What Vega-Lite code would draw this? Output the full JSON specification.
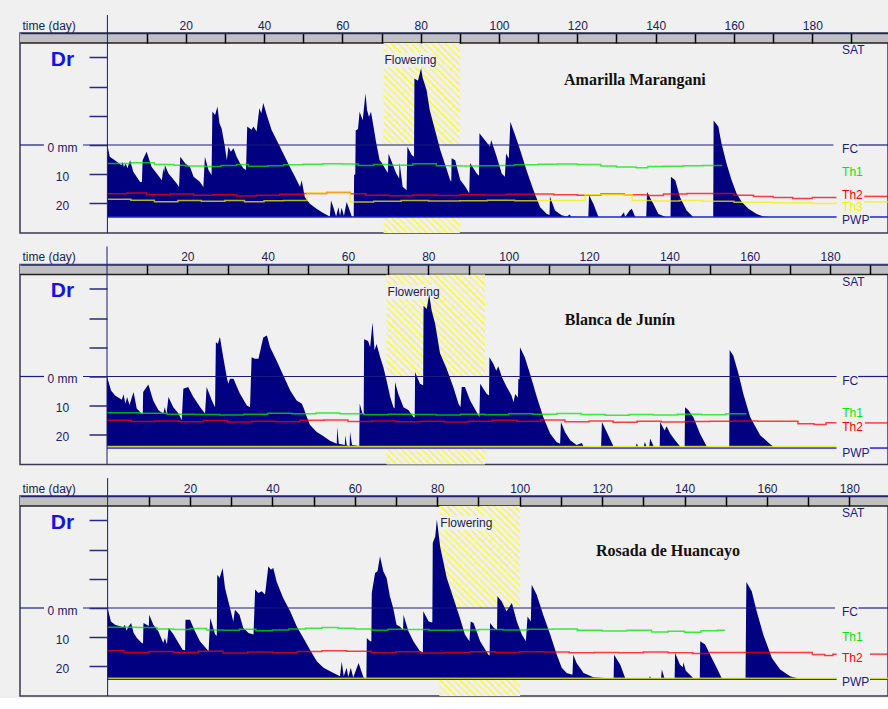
{
  "$schema": "https://vega.github.io/schema/vega-lite/v6.json",
  "background": "#f0f0f0",
  "padding": {"left": 18, "top": 13, "right": 0, "bottom": 0},
  "autosize": {"type": "pad"},
  "spacing": 9.5,
  "config": {"view": {"stroke": "#3a3a50", "strokeWidth": 1.5}, "font": "Liberation Sans"},
  "datasets": {
    "one": [{}],
    "a1": [
      {"d":0,"v":0},{"d":0.6,"v":4.0},{"d":1.9,"v":5.2},{"d":3.6,"v":6.9},{"d":3.9,"v":5.7},{"d":4.2,"v":7.5},{"d":4.7,"v":6.3},{"d":5.1,"v":8.0},{"d":5.8,"v":5.2},{"d":6.6,"v":9.2},{"d":8.3,"v":12.6},{"d":8.8,"v":12.8},{"d":9.0,"v":5.2},{"d":10.0,"v":2.3},{"d":11.3,"v":7.5},{"d":12.6,"v":9.8},{"d":13.9,"v":12.1},{"d":14.3,"v":8.0},{"d":14.5,"v":9.5},{"d":14.7,"v":6.9},{"d":15.6,"v":9.8},{"d":17.7,"v":13.2},{"d":18.3,"v":14.4},{"d":18.6,"v":4.0},{"d":19.9,"v":6.3},{"d":21.1,"v":7.5},{"d":22.0,"v":10.9},{"d":23.6,"v":12.6},{"d":24.5,"v":14.4},{"d":24.9,"v":4.0},{"d":25.8,"v":8.6},{"d":26.6,"v":10.3},{"d":26.8,"v":-11.5},{"d":27.5,"v":-10.3},{"d":28.1,"v":-13.2},{"d":28.6,"v":-7.5},{"d":29.2,"v":-5.5},{"d":30.0,"v":0.6},{"d":30.5,"v":5.2},{"d":30.9,"v":0.6},{"d":31.5,"v":2.3},{"d":32.2,"v":1.1},{"d":33.0,"v":4.0},{"d":33.9,"v":6.3},{"d":34.7,"v":8.0},{"d":35.4,"v":8.6},{"d":35.7,"v":-6.3},{"d":36.8,"v":-5.2},{"d":37.3,"v":-6.3},{"d":38.1,"v":-4.6},{"d":38.8,"v":-12.6},{"d":39.3,"v":-10.9},{"d":39.8,"v":-14.4},{"d":40.7,"v":-10.3},{"d":41.9,"v":-5.2},{"d":43.2,"v":-1.7},{"d":44.9,"v":2.9},{"d":46.6,"v":7.5},{"d":47.9,"v":10.9},{"d":49.2,"v":14.4},{"d":49.6,"v":12.1},{"d":50.4,"v":17.8},{"d":51.7,"v":20.1},{"d":53.4,"v":21.8},{"d":55.1,"v":23.3},{"d":56.8,"v":24.5},{"d":57.1,"v":19.0},{"d":57.7,"v":21.3},{"d":58.4,"v":24.5},{"d":59.0,"v":21.3},{"d":59.4,"v":24.3},{"d":59.8,"v":21.5},{"d":60.4,"v":24.3},{"d":61.1,"v":19.5},{"d":62.4,"v":24.5},{"d":62.9,"v":24.5},{"d":63.0,"v":10.3},{"d":63.3,"v":10.0},{"d":63.4,"v":-5.0},{"d":64.0,"v":-5.5},{"d":64.4,"v":-11.4},{"d":65.2,"v":-8.5},{"d":65.9,"v":-17.7},{"d":66.3,"v":-12.0},{"d":66.8,"v":-9.6},{"d":67.3,"v":-11.4},{"d":67.8,"v":-7.5},{"d":68.6,"v":-1.0},{"d":69.5,"v":5.1},{"d":70.0,"v":6.0},{"d":71.6,"v":9.6},{"d":71.8,"v":3.0},{"d":73.7,"v":9.6},{"d":74.5,"v":11.5},{"d":74.6,"v":6.0},{"d":75.4,"v":14.3},{"d":76.4,"v":15.5},{"d":76.6,"v":0.6},{"d":77.7,"v":3.4},{"d":78.3,"v":4.0},{"d":78.4,"v":-22.8},{"d":79.3,"v":-22.0},{"d":80.1,"v":-26.3},{"d":80.5,"v":-23.0},{"d":81.5,"v":-18.8},{"d":82.3,"v":-12.0},{"d":84.1,"v":-2.9},{"d":85.0,"v":1.7},{"d":86.7,"v":8.6},{"d":87.5,"v":12.0},{"d":87.8,"v":12.5},{"d":87.9,"v":4.5},{"d":88.8,"v":5.2},{"d":90.1,"v":12.0},{"d":91.4,"v":14.3},{"d":92.4,"v":16.5},{"d":92.6,"v":6.2},{"d":94.3,"v":9.8},{"d":94.9,"v":10.5},{"d":95.0,"v":-4.0},{"d":96.0,"v":-2.3},{"d":97.7,"v":0.6},{"d":98.0,"v":-1.7},{"d":99.4,"v":4.0},{"d":100.7,"v":9.8},{"d":101.5,"v":10.9},{"d":101.8,"v":2.9},{"d":102.5,"v":4.6},{"d":102.9,"v":-8.0},{"d":104.1,"v":-3.4},{"d":105.4,"v":1.7},{"d":107.0,"v":8.6},{"d":108.8,"v":15.5},{"d":110.5,"v":21.3},{"d":112.2,"v":23.6},{"d":112.9,"v":24.0},{"d":113.0,"v":17.6},{"d":114.3,"v":22.4},{"d":116.0,"v":24.1},{"d":117.3,"v":24.5},{"d":118.1,"v":23.8},{"d":118.4,"v":24.6},{"d":122.8,"v":24.66},{"d":123.0,"v":17.2},{"d":124.1,"v":20.1},{"d":125.4,"v":24.66},{"d":131.0,"v":24.66},{"d":131.9,"v":23.0},{"d":132.2,"v":24.66},{"d":133.3,"v":22.5},{"d":133.9,"v":21.8},{"d":134.8,"v":24.66},{"d":137.6,"v":24.66},{"d":137.8,"v":16.1},{"d":139.4,"v":20.1},{"d":140.7,"v":23.6},{"d":142.6,"v":24.66},{"d":143.8,"v":24.66},{"d":143.9,"v":10.9},{"d":145.0,"v":12.1},{"d":146.2,"v":17.8},{"d":147.9,"v":22.4},{"d":149.6,"v":24.66},{"d":154.7,"v":24.66},{"d":154.8,"v":-8.4},{"d":156.0,"v":-6.3},{"d":156.8,"v":-0.6},{"d":158.1,"v":6.3},{"d":159.4,"v":12.1},{"d":160.7,"v":16.7},{"d":162.0,"v":19.5},{"d":163.7,"v":21.8},{"d":165.8,"v":23.6},{"d":167.5,"v":24.5},{"d":169.0,"v":24.66}
    ],
    "a2": [
      {"d":0,"v":0},{"d":1.0,"v":4.8},{"d":2.0,"v":6.5},{"d":3.7,"v":8.0},{"d":4.1,"v":6.1},{"d":4.6,"v":9.3},{"d":5.0,"v":7.0},{"d":5.6,"v":9.8},{"d":6.6,"v":5.3},{"d":7.4,"v":11.0},{"d":8.6,"v":12.7},{"d":8.9,"v":12.9},{"d":9.0,"v":5.3},{"d":10.3,"v":2.7},{"d":11.5,"v":8.2},{"d":12.8,"v":11.6},{"d":14.0,"v":12.7},{"d":14.4,"v":10.5},{"d":14.8,"v":13.0},{"d":15.3,"v":7.0},{"d":16.5,"v":10.5},{"d":17.8,"v":12.7},{"d":18.6,"v":15.0},{"d":19.0,"v":4.2},{"d":20.2,"v":3.6},{"d":21.5,"v":7.0},{"d":23.2,"v":10.5},{"d":24.4,"v":12.7},{"d":24.8,"v":3.6},{"d":26.1,"v":8.2},{"d":26.9,"v":10.5},{"d":27.1,"v":-11.7},{"d":27.6,"v":-11.2},{"d":28.1,"v":-13.6},{"d":28.8,"v":-7.7},{"d":29.8,"v":0.2},{"d":30.2,"v":2.5},{"d":30.6,"v":0.8},{"d":31.5,"v":0.8},{"d":32.3,"v":3.4},{"d":33.1,"v":5.9},{"d":34.8,"v":9.9},{"d":35.6,"v":10.5},{"d":36.0,"v":-6.6},{"d":36.8,"v":-6.1},{"d":37.7,"v":-6.1},{"d":38.9,"v":-13.4},{"d":39.8,"v":-14.0},{"d":40.6,"v":-10.0},{"d":42.2,"v":-5.5},{"d":43.9,"v":-0.3},{"d":45.6,"v":4.8},{"d":47.2,"v":8.2},{"d":48.5,"v":9.3},{"d":49.0,"v":11.0},{"d":49.5,"v":13.0},{"d":50.5,"v":16.5},{"d":52.2,"v":19.0},{"d":53.9,"v":20.5},{"d":55.5,"v":22.0},{"d":57.2,"v":23.0},{"d":57.3,"v":17.3},{"d":57.7,"v":23.0},{"d":59.2,"v":23.5},{"d":59.3,"v":20.1},{"d":59.7,"v":23.6},{"d":60.4,"v":23.8},{"d":60.5,"v":19.0},{"d":61.0,"v":23.5},{"d":62.8,"v":23.8},{"d":62.9,"v":9.3},{"d":63.6,"v":12.7},{"d":63.9,"v":13.0},{"d":64.0,"v":-12.8},{"d":65.0,"v":-12.2},{"d":65.5,"v":-10.0},{"d":66.1,"v":-18.5},{"d":66.6,"v":-9.0},{"d":67.1,"v":-11.1},{"d":68.0,"v":-6.6},{"d":68.8,"v":-3.2},{"d":69.6,"v":1.4},{"d":70.5,"v":7.0},{"d":71.3,"v":10.5},{"d":71.6,"v":11.0},{"d":71.7,"v":1.9},{"d":72.5,"v":5.9},{"d":73.8,"v":10.5},{"d":75.0,"v":11.5},{"d":76.3,"v":13.9},{"d":76.6,"v":14.0},{"d":76.7,"v":-1.5},{"d":77.9,"v":2.5},{"d":78.7,"v":3.0},{"d":78.8,"v":-24.2},{"d":79.6,"v":-23.1},{"d":80.2,"v":-28.2},{"d":80.8,"v":-22.7},{"d":81.7,"v":-18.0},{"d":82.9,"v":-8.0},{"d":84.6,"v":-2.5},{"d":86.2,"v":3.6},{"d":87.5,"v":9.3},{"d":88.0,"v":10.5},{"d":88.3,"v":3.6},{"d":89.1,"v":3.6},{"d":90.4,"v":8.2},{"d":92.0,"v":12.2},{"d":92.7,"v":13.9},{"d":92.9,"v":2.5},{"d":94.5,"v":5.9},{"d":95.1,"v":6.5},{"d":95.2,"v":-6.6},{"d":96.2,"v":-4.3},{"d":96.9,"v":-2.0},{"d":97.4,"v":-3.5},{"d":98.3,"v":0.2},{"d":99.5,"v":3.6},{"d":100.7,"v":6.5},{"d":101.2,"v":8.8},{"d":101.6,"v":6.0},{"d":102.3,"v":7.2},{"d":102.4,"v":0.8},{"d":102.7,"v":1.0},{"d":102.8,"v":-10.0},{"d":104.0,"v":-6.6},{"d":105.3,"v":-0.9},{"d":107.0,"v":7.0},{"d":108.6,"v":13.9},{"d":110.3,"v":19.5},{"d":111.9,"v":22.4},{"d":112.8,"v":23.0},{"d":113.0,"v":15.6},{"d":114.0,"v":19.0},{"d":115.3,"v":21.8},{"d":116.9,"v":23.5},{"d":118.2,"v":22.8},{"d":118.6,"v":23.9},{"d":120.7,"v":24.0},{"d":123.0,"v":24.0},{"d":123.2,"v":15.6},{"d":124.4,"v":19.0},{"d":126.1,"v":24.0},{"d":131.6,"v":24.0},{"d":131.9,"v":22.9},{"d":132.2,"v":24.0},{"d":133.6,"v":24.0},{"d":133.9,"v":22.4},{"d":134.3,"v":24.0},{"d":135.0,"v":24.0},{"d":135.2,"v":21.2},{"d":136.1,"v":24.0},{"d":137.6,"v":24.0},{"d":137.7,"v":15.6},{"d":138.8,"v":18.5},{"d":139.3,"v":17.0},{"d":140.2,"v":19.5},{"d":141.4,"v":21.8},{"d":142.7,"v":24.0},{"d":143.8,"v":24.0},{"d":143.9,"v":10.5},{"d":144.7,"v":11.5},{"d":146.0,"v":14.0},{"d":147.6,"v":19.5},{"d":149.3,"v":24.0},{"d":154.9,"v":24.0},{"d":155.0,"v":-9.1},{"d":155.9,"v":-7.2},{"d":157.2,"v":-0.9},{"d":158.4,"v":5.9},{"d":160.1,"v":13.9},{"d":162.6,"v":20.1},{"d":165.1,"v":23.2},{"d":165.9,"v":24.0}
    ],
    "a3": [
      {"d":0,"v":0},{"d":0.8,"v":4.6},{"d":1.8,"v":5.7},{"d":3.8,"v":6.6},{"d":4.2,"v":5.7},{"d":4.6,"v":7.8},{"d":5.0,"v":6.5},{"d":5.7,"v":5.1},{"d":6.3,"v":8.5},{"d":7.1,"v":10.3},{"d":8.3,"v":12.0},{"d":8.6,"v":12.2},{"d":8.7,"v":5.1},{"d":9.8,"v":6.0},{"d":10.0,"v":6.2},{"d":10.1,"v":2.3},{"d":11.1,"v":5.7},{"d":12.3,"v":8.0},{"d":13.5,"v":12.0},{"d":13.9,"v":10.3},{"d":14.4,"v":12.5},{"d":14.8,"v":6.8},{"d":16.0,"v":9.1},{"d":17.2,"v":12.0},{"d":18.2,"v":14.3},{"d":18.8,"v":14.5},{"d":18.9,"v":4.0},{"d":20.0,"v":4.0},{"d":21.2,"v":8.0},{"d":22.4,"v":11.4},{"d":24.5,"v":14.8},{"d":24.9,"v":3.4},{"d":26.1,"v":9.1},{"d":26.5,"v":9.5},{"d":26.6,"v":-11.4},{"d":27.2,"v":-10.3},{"d":27.9,"v":-13.7},{"d":28.5,"v":-6.8},{"d":29.7,"v":0.0},{"d":30.5,"v":4.6},{"d":30.9,"v":0.6},{"d":32.0,"v":2.3},{"d":32.9,"v":6.8},{"d":34.2,"v":8.6},{"d":35.4,"v":9.1},{"d":35.8,"v":-6.3},{"d":36.6,"v":-5.1},{"d":37.4,"v":-5.7},{"d":38.2,"v":-4.6},{"d":39.0,"v":-14.3},{"d":39.6,"v":-13.1},{"d":40.2,"v":-13.7},{"d":41.0,"v":-9.1},{"d":42.6,"v":-3.4},{"d":44.3,"v":1.1},{"d":45.9,"v":6.3},{"d":47.5,"v":10.3},{"d":49.1,"v":14.3},{"d":50.8,"v":18.3},{"d":52.4,"v":20.5},{"d":54.8,"v":22.3},{"d":56.4,"v":23.4},{"d":56.8,"v":18.3},{"d":57.3,"v":23.4},{"d":58.0,"v":20.5},{"d":58.4,"v":23.6},{"d":59.0,"v":20.5},{"d":59.6,"v":23.8},{"d":60.9,"v":18.8},{"d":62.1,"v":23.8},{"d":62.8,"v":24.0},{"d":62.9,"v":10.3},{"d":63.7,"v":11.4},{"d":64.0,"v":11.5},{"d":64.1,"v":-5.1},{"d":64.9,"v":-12.0},{"d":65.5,"v":-12.6},{"d":66.1,"v":-17.7},{"d":66.9,"v":-12.6},{"d":67.7,"v":-10.3},{"d":68.5,"v":-4.0},{"d":69.3,"v":0.0},{"d":70.1,"v":5.7},{"d":70.9,"v":6.3},{"d":71.7,"v":7.5},{"d":71.8,"v":2.3},{"d":73.0,"v":8.0},{"d":74.2,"v":11.4},{"d":75.8,"v":14.8},{"d":76.5,"v":15.2},{"d":76.6,"v":1.1},{"d":77.9,"v":4.6},{"d":78.8,"v":5.0},{"d":78.9,"v":-22.3},{"d":79.5,"v":-24.5},{"d":79.9,"v":-30.3},{"d":80.4,"v":-24.5},{"d":80.7,"v":-21.0},{"d":82.3,"v":-10.3},{"d":83.9,"v":-3.4},{"d":85.5,"v":3.4},{"d":86.7,"v":9.1},{"d":87.8,"v":11.4},{"d":88.1,"v":4.6},{"d":88.8,"v":5.1},{"d":90.4,"v":11.4},{"d":92.4,"v":16.0},{"d":92.7,"v":16.3},{"d":92.8,"v":5.1},{"d":93.7,"v":6.8},{"d":94.5,"v":7.5},{"d":94.6,"v":-4.0},{"d":95.6,"v":-2.3},{"d":96.8,"v":1.1},{"d":98.1,"v":-1.7},{"d":99.3,"v":4.6},{"d":100.5,"v":9.1},{"d":101.5,"v":11.4},{"d":101.9,"v":2.9},{"d":102.7,"v":4.6},{"d":102.9,"v":-8.0},{"d":104.1,"v":-4.6},{"d":105.7,"v":2.3},{"d":107.4,"v":9.1},{"d":109.0,"v":16.0},{"d":110.2,"v":20.5},{"d":111.4,"v":22.3},{"d":112.8,"v":22.9},{"d":113.0,"v":16.0},{"d":113.8,"v":18.8},{"d":115.5,"v":22.3},{"d":117.9,"v":23.7},{"d":120.7,"v":24.0},{"d":122.8,"v":24.0},{"d":122.9,"v":16.0},{"d":124.4,"v":19.4},{"d":125.6,"v":24.0},{"d":131.4,"v":24.0},{"d":131.6,"v":23.4},{"d":131.9,"v":24.0},{"d":134.3,"v":24.0},{"d":134.5,"v":21.1},{"d":135.1,"v":24.0},{"d":137.6,"v":24.0},{"d":137.7,"v":15.4},{"d":138.9,"v":19.4},{"d":139.6,"v":20.3},{"d":139.7,"v":18.6},{"d":140.3,"v":21.5},{"d":142.1,"v":24.0},{"d":143.7,"v":24.0},{"d":143.8,"v":11.4},{"d":145.0,"v":12.5},{"d":146.2,"v":16.0},{"d":147.8,"v":20.5},{"d":149.0,"v":24.0},{"d":154.8,"v":24.0},{"d":155.0,"v":-8.9},{"d":156.3,"v":-5.7},{"d":157.5,"v":1.1},{"d":159.1,"v":9.1},{"d":161.2,"v":17.1},{"d":163.2,"v":21.1},{"d":165.6,"v":23.4},{"d":167.2,"v":24.0}
    ],
    "t1": [
      {"d":0,"v":6.3,"s":"Th1","g":"1"},{"d":6,"v":6.1,"s":"Th1","g":"1"},{"d":12,"v":6.7,"s":"Th1","g":"1"},{"d":17,"v":6.9,"s":"Th1","g":"1"},{"d":20,"v":7.2,"s":"Th1","g":"1"},{"d":25,"v":7.4,"s":"Th1","g":"1"},{"d":29,"v":7.0,"s":"Th1","g":"1"},{"d":33,"v":6.7,"s":"Th1","g":"1"},{"d":36,"v":7.3,"s":"Th1","g":"1"},{"d":41,"v":7.1,"s":"Th1","g":"1"},{"d":45,"v":6.8,"s":"Th1","g":"1"},{"d":50,"v":6.6,"s":"Th1","g":"1"},{"d":55,"v":6.4,"s":"Th1","g":"1"},{"d":60,"v":6.5,"s":"Th1","g":"1"},{"d":64,"v":7.0,"s":"Th1","g":"1"},{"d":68,"v":6.7,"s":"Th1","g":"1"},{"d":72,"v":6.9,"s":"Th1","g":"1"},{"d":78,"v":6.4,"s":"Th1","g":"1"},{"d":84,"v":7.1,"s":"Th1","g":"1"},{"d":90,"v":7.2,"s":"Th1","g":"1"},{"d":95,"v":7.1,"s":"Th1","g":"1"},{"d":100,"v":7.0,"s":"Th1","g":"1"},{"d":104,"v":6.8,"s":"Th1","g":"1"},{"d":110,"v":6.6,"s":"Th1","g":"1"},{"d":115,"v":6.5,"s":"Th1","g":"1"},{"d":120,"v":6.7,"s":"Th1","g":"1"},{"d":126,"v":7.2,"s":"Th1","g":"1"},{"d":130,"v":7.5,"s":"Th1","g":"1"},{"d":135,"v":7.8,"s":"Th1","g":"1"},{"d":138,"v":7.4,"s":"Th1","g":"1"},{"d":142,"v":7.3,"s":"Th1","g":"1"},{"d":147,"v":7.1,"s":"Th1","g":"1"},{"d":152,"v":7.0,"s":"Th1","g":"1"},{"d":157,"v":7.0,"s":"Th1","g":"1"},
      {"d":0,"v":16.7,"s":"Th2","g":"2a"},{"d":5,"v":16.4,"s":"Th2","g":"2a"},{"d":10,"v":17.0,"s":"Th2","g":"2a"},{"d":16,"v":16.8,"s":"Th2","g":"2a"},{"d":22,"v":17.2,"s":"Th2","g":"2a"},{"d":27,"v":17.0,"s":"Th2","g":"2a"},{"d":33,"v":17.5,"s":"Th2","g":"2a"},{"d":38,"v":17.2,"s":"Th2","g":"2a"},{"d":44,"v":16.9,"s":"Th2","g":"2a"},{"d":50,"v":16.6,"s":"Th2","g":"2a"},{"d":56,"v":16.3,"s":"Th2","g":"2a"},{"d":62,"v":16.7,"s":"Th2","g":"2a"},{"d":66,"v":17.2,"s":"Th2","g":"2a"},{"d":72,"v":17.4,"s":"Th2","g":"2a"},{"d":78,"v":17.1,"s":"Th2","g":"2a"},{"d":84,"v":17.3,"s":"Th2","g":"2a"},{"d":90,"v":17.0,"s":"Th2","g":"2a"},{"d":96,"v":17.1,"s":"Th2","g":"2a"},{"d":102,"v":16.9,"s":"Th2","g":"2a"},{"d":108,"v":16.8,"s":"Th2","g":"2a"},{"d":114,"v":17.0,"s":"Th2","g":"2a"},{"d":120,"v":17.2,"s":"Th2","g":"2a"},{"d":126,"v":16.8,"s":"Th2","g":"2a"},{"d":132,"v":17.0,"s":"Th2","g":"2a"},{"d":138,"v":17.3,"s":"Th2","g":"2a"},{"d":142,"v":16.8,"s":"Th2","g":"2a"},{"d":148,"v":16.6,"s":"Th2","g":"2a"},{"d":155,"v":16.6,"s":"Th2","g":"2a"},{"d":160,"v":17.2,"s":"Th2","g":"2a"},{"d":165,"v":17.6,"s":"Th2","g":"2a"},{"d":170,"v":18.0,"s":"Th2","g":"2a"},{"d":175,"v":18.3,"s":"Th2","g":"2a"},{"d":180,"v":18.0,"s":"Th2","g":"2a"},{"d":186,"v":17.8,"s":"Th2","g":"2a"},
      {"d":193.3,"v":17.6,"s":"Th2","g":"2b"},{"d":199.33,"v":17.6,"s":"Th2","g":"2b"},
      {"d":0,"v":18.6,"s":"Th3","g":"3a"},{"d":6,"v":18.9,"s":"Th3","g":"3a"},{"d":12,"v":19.4,"s":"Th3","g":"3a"},{"d":18,"v":19.0,"s":"Th3","g":"3a"},{"d":24,"v":19.3,"s":"Th3","g":"3a"},{"d":30,"v":19.0,"s":"Th3","g":"3a"},{"d":35,"v":19.4,"s":"Th3","g":"3a"},{"d":40,"v":19.1,"s":"Th3","g":"3a"},{"d":45,"v":19.0,"s":"Th3","g":"3a"},{"d":51,"v":16.4,"s":"Th3","g":"3a"},{"d":62,"v":19.5,"s":"Th3","g":"3a"},{"d":68,"v":19.3,"s":"Th3","g":"3a"},{"d":75,"v":19.0,"s":"Th3","g":"3a"},{"d":82,"v":19.2,"s":"Th3","g":"3a"},{"d":90,"v":19.1,"s":"Th3","g":"3a"},{"d":97,"v":18.9,"s":"Th3","g":"3a"},{"d":104,"v":19.1,"s":"Th3","g":"3a"},{"d":110,"v":19.0,"s":"Th3","g":"3a"},{"d":122,"v":17.0,"s":"Th3","g":"3a"},{"d":134,"v":19.0,"s":"Th3","g":"3a"},{"d":140,"v":19.2,"s":"Th3","g":"3a"},{"d":146,"v":19.0,"s":"Th3","g":"3a"},{"d":152,"v":19.3,"s":"Th3","g":"3a"},{"d":160,"v":19.6,"s":"Th3","g":"3a"},{"d":170,"v":19.8,"s":"Th3","g":"3a"},{"d":180,"v":20.0,"s":"Th3","g":"3a"},{"d":186,"v":19.6,"s":"Th3","g":"3a"},
      {"d":193.3,"v":19.5,"s":"Th3","g":"3b"},{"d":199.33,"v":19.5,"s":"Th3","g":"3b"}
    ],
    "t2": [
      {"d":0,"v":12.4,"s":"Th1","g":"1"},{"d":8,"v":12.6,"s":"Th1","g":"1"},{"d":15,"v":12.9,"s":"Th1","g":"1"},{"d":22,"v":13.0,"s":"Th1","g":"1"},{"d":28,"v":13.2,"s":"Th1","g":"1"},{"d":34,"v":12.9,"s":"Th1","g":"1"},{"d":40,"v":12.6,"s":"Th1","g":"1"},{"d":46,"v":12.8,"s":"Th1","g":"1"},{"d":52,"v":12.5,"s":"Th1","g":"1"},{"d":58,"v":12.8,"s":"Th1","g":"1"},{"d":64,"v":13.1,"s":"Th1","g":"1"},{"d":70,"v":12.9,"s":"Th1","g":"1"},{"d":76,"v":13.0,"s":"Th1","g":"1"},{"d":82,"v":13.2,"s":"Th1","g":"1"},{"d":88,"v":12.9,"s":"Th1","g":"1"},{"d":94,"v":13.1,"s":"Th1","g":"1"},{"d":100,"v":12.8,"s":"Th1","g":"1"},{"d":106,"v":12.9,"s":"Th1","g":"1"},{"d":112,"v":12.7,"s":"Th1","g":"1"},{"d":118,"v":13.0,"s":"Th1","g":"1"},{"d":124,"v":13.3,"s":"Th1","g":"1"},{"d":130,"v":13.0,"s":"Th1","g":"1"},{"d":136,"v":13.2,"s":"Th1","g":"1"},{"d":142,"v":12.9,"s":"Th1","g":"1"},{"d":148,"v":13.1,"s":"Th1","g":"1"},{"d":154,"v":12.8,"s":"Th1","g":"1"},{"d":159,"v":13.0,"s":"Th1","g":"1"},
      {"d":0,"v":15.0,"s":"Th2","g":"2a"},{"d":6,"v":15.4,"s":"Th2","g":"2a"},{"d":12,"v":15.2,"s":"Th2","g":"2a"},{"d":18,"v":15.5,"s":"Th2","g":"2a"},{"d":24,"v":15.1,"s":"Th2","g":"2a"},{"d":30,"v":15.6,"s":"Th2","g":"2a"},{"d":36,"v":15.3,"s":"Th2","g":"2a"},{"d":42,"v":15.5,"s":"Th2","g":"2a"},{"d":48,"v":15.0,"s":"Th2","g":"2a"},{"d":54,"v":14.9,"s":"Th2","g":"2a"},{"d":60,"v":15.4,"s":"Th2","g":"2a"},{"d":66,"v":15.2,"s":"Th2","g":"2a"},{"d":72,"v":15.5,"s":"Th2","g":"2a"},{"d":78,"v":15.3,"s":"Th2","g":"2a"},{"d":84,"v":15.6,"s":"Th2","g":"2a"},{"d":90,"v":15.3,"s":"Th2","g":"2a"},{"d":96,"v":15.0,"s":"Th2","g":"2a"},{"d":102,"v":15.3,"s":"Th2","g":"2a"},{"d":108,"v":14.9,"s":"Th2","g":"2a"},{"d":114,"v":15.5,"s":"Th2","g":"2a"},{"d":120,"v":15.2,"s":"Th2","g":"2a"},{"d":126,"v":15.7,"s":"Th2","g":"2a"},{"d":132,"v":15.3,"s":"Th2","g":"2a"},{"d":138,"v":15.6,"s":"Th2","g":"2a"},{"d":144,"v":15.4,"s":"Th2","g":"2a"},{"d":150,"v":15.3,"s":"Th2","g":"2a"},{"d":156,"v":15.2,"s":"Th2","g":"2a"},{"d":162,"v":15.3,"s":"Th2","g":"2a"},{"d":168,"v":15.3,"s":"Th2","g":"2a"},{"d":172,"v":16.2,"s":"Th2","g":"2a"},{"d":176,"v":16.4,"s":"Th2","g":"2a"},{"d":179,"v":15.8,"s":"Th2","g":"2a"},{"d":181.6,"v":15.8,"s":"Th2","g":"2a"},
      {"d":188.7,"v":15.9,"s":"Th2","g":"2b"},{"d":194.42,"v":15.9,"s":"Th2","g":"2b"},
      {"d":0,"v":24.0,"s":"Th3","g":"3a"},{"d":181.6,"v":24.0,"s":"Th3","g":"3a"}
    ],
    "t3": [
      {"d":0,"v":6.6,"s":"Th1","g":"1"},{"d":7,"v":6.7,"s":"Th1","g":"1"},{"d":12,"v":7.2,"s":"Th1","g":"1"},{"d":16,"v":7.4,"s":"Th1","g":"1"},{"d":20,"v":7.0,"s":"Th1","g":"1"},{"d":24,"v":7.5,"s":"Th1","g":"1"},{"d":28,"v":7.6,"s":"Th1","g":"1"},{"d":32,"v":7.3,"s":"Th1","g":"1"},{"d":36,"v":7.8,"s":"Th1","g":"1"},{"d":40,"v":7.5,"s":"Th1","g":"1"},{"d":44,"v":7.2,"s":"Th1","g":"1"},{"d":48,"v":6.9,"s":"Th1","g":"1"},{"d":52,"v":6.7,"s":"Th1","g":"1"},{"d":56,"v":6.9,"s":"Th1","g":"1"},{"d":60,"v":7.2,"s":"Th1","g":"1"},{"d":64,"v":7.6,"s":"Th1","g":"1"},{"d":68,"v":7.3,"s":"Th1","g":"1"},{"d":72,"v":7.4,"s":"Th1","g":"1"},{"d":78,"v":7.6,"s":"Th1","g":"1"},{"d":84,"v":7.5,"s":"Th1","g":"1"},{"d":90,"v":7.4,"s":"Th1","g":"1"},{"d":96,"v":7.5,"s":"Th1","g":"1"},{"d":102,"v":7.3,"s":"Th1","g":"1"},{"d":108,"v":7.2,"s":"Th1","g":"1"},{"d":114,"v":7.6,"s":"Th1","g":"1"},{"d":120,"v":7.9,"s":"Th1","g":"1"},{"d":126,"v":7.6,"s":"Th1","g":"1"},{"d":132,"v":8.2,"s":"Th1","g":"1"},{"d":136,"v":8.0,"s":"Th1","g":"1"},{"d":140,"v":8.3,"s":"Th1","g":"1"},{"d":144,"v":7.8,"s":"Th1","g":"1"},{"d":148,"v":7.6,"s":"Th1","g":"1"},{"d":149.8,"v":7.6,"s":"Th1","g":"1"},
      {"d":0,"v":14.6,"s":"Th2","g":"2a"},{"d":4,"v":15.2,"s":"Th2","g":"2a"},{"d":10,"v":14.9,"s":"Th2","g":"2a"},{"d":16,"v":15.2,"s":"Th2","g":"2a"},{"d":22,"v":14.8,"s":"Th2","g":"2a"},{"d":28,"v":15.4,"s":"Th2","g":"2a"},{"d":34,"v":15.1,"s":"Th2","g":"2a"},{"d":40,"v":15.3,"s":"Th2","g":"2a"},{"d":46,"v":14.9,"s":"Th2","g":"2a"},{"d":52,"v":14.6,"s":"Th2","g":"2a"},{"d":58,"v":14.8,"s":"Th2","g":"2a"},{"d":64,"v":15.3,"s":"Th2","g":"2a"},{"d":70,"v":15.0,"s":"Th2","g":"2a"},{"d":76,"v":15.4,"s":"Th2","g":"2a"},{"d":82,"v":15.2,"s":"Th2","g":"2a"},{"d":88,"v":15.0,"s":"Th2","g":"2a"},{"d":94,"v":15.2,"s":"Th2","g":"2a"},{"d":100,"v":15.0,"s":"Th2","g":"2a"},{"d":106,"v":15.1,"s":"Th2","g":"2a"},{"d":112,"v":15.3,"s":"Th2","g":"2a"},{"d":118,"v":15.2,"s":"Th2","g":"2a"},{"d":124,"v":15.3,"s":"Th2","g":"2a"},{"d":130,"v":15.1,"s":"Th2","g":"2a"},{"d":136,"v":15.3,"s":"Th2","g":"2a"},{"d":142,"v":15.6,"s":"Th2","g":"2a"},{"d":146,"v":15.2,"s":"Th2","g":"2a"},{"d":171,"v":15.9,"s":"Th2","g":"2a"},{"d":174,"v":16.3,"s":"Th2","g":"2a"},{"d":176,"v":15.8,"s":"Th2","g":"2a"},{"d":176.9,"v":15.8,"s":"Th2","g":"2a"},
      {"d":185,"v":15.8,"s":"Th2","g":"2b"},{"d":189.37,"v":15.8,"s":"Th2","g":"2b"},
      {"d":0,"v":24.1,"s":"Th3","g":"3a"},{"d":176.9,"v":24.1,"s":"Th3","g":"3a"},
      {"d":185,"v":24.1,"s":"Th3","g":"3b"},{"d":189.37,"v":24.1,"s":"Th3","g":"3b"}
    ],
    "l1": [{"lab":"SAT","v":-32.5},{"lab":"FC","v":1.4},{"lab":"Th1","v":9.2},{"lab":"Th2","v":17.0},{"lab":"Th3","v":21.3},{"lab":"PWP","v":25.7}],
    "l2": [{"lab":"SAT","v":-32.3},{"lab":"FC","v":1.6},{"lab":"Th1","v":12.6},{"lab":"Th2","v":17.3},{"lab":"PWP","v":26.3}],
    "l3": [{"lab":"SAT","v":-32.6},{"lab":"FC","v":1.3},{"lab":"Th1","v":9.8},{"lab":"Th2","v":17.1},{"lab":"PWP","v":25.3}]
  },
  "vconcat": [
    {
      "width": 868, "height": 200,
      "layer": [
        {"data": {"name": "one"}, "mark": {"type": "rect", "fill": "#c0c0c0"},
         "encoding": {"x": {"datum": -22.32}, "x2": {"datum": 199.33}, "y": {"datum": -38.36}, "y2": {"datum": -34.94}}},
        {"data": {"name": "one"}, "mark": {"type": "rule", "color": "#202020", "strokeWidth": 1.5},
         "encoding": {"x": {"datum": -22.32}, "x2": {"datum": 199.33}, "y": {"datum": -34.94}}},
        {"data": {"name": "one"}, "mark": {"type": "rect", "fill": {"gradient": "linear", "x1": 0, "y1": 1, "x2": 0.5465, "y2": -0.3592, "stops": [
          {"offset":0.0065,"color":"#f0f0f0"},{"offset":0.011,"color":"#ffff00"},{"offset":0.0155,"color":"#f0f0f0"},
          {"offset":0.0288,"color":"#f0f0f0"},{"offset":0.0333,"color":"#ffff00"},{"offset":0.0378,"color":"#f0f0f0"},
          {"offset":0.0512,"color":"#f0f0f0"},{"offset":0.0557,"color":"#ffff00"},{"offset":0.0602,"color":"#f0f0f0"},
          {"offset":0.0735,"color":"#f0f0f0"},{"offset":0.078,"color":"#ffff00"},{"offset":0.0825,"color":"#f0f0f0"},
          {"offset":0.0958,"color":"#f0f0f0"},{"offset":0.1003,"color":"#ffff00"},{"offset":0.1048,"color":"#f0f0f0"},
          {"offset":0.1182,"color":"#f0f0f0"},{"offset":0.1227,"color":"#ffff00"},{"offset":0.1272,"color":"#f0f0f0"},
          {"offset":0.1405,"color":"#f0f0f0"},{"offset":0.145,"color":"#ffff00"},{"offset":0.1495,"color":"#f0f0f0"},
          {"offset":0.1628,"color":"#f0f0f0"},{"offset":0.1673,"color":"#ffff00"},{"offset":0.1718,"color":"#f0f0f0"},
          {"offset":0.1851,"color":"#f0f0f0"},{"offset":0.1896,"color":"#ffff00"},{"offset":0.1941,"color":"#f0f0f0"},
          {"offset":0.2075,"color":"#f0f0f0"},{"offset":0.212,"color":"#ffff00"},{"offset":0.2165,"color":"#f0f0f0"},
          {"offset":0.2298,"color":"#f0f0f0"},{"offset":0.2343,"color":"#ffff00"},{"offset":0.2388,"color":"#f0f0f0"},
          {"offset":0.2521,"color":"#f0f0f0"},{"offset":0.2566,"color":"#ffff00"},{"offset":0.2611,"color":"#f0f0f0"},
          {"offset":0.2745,"color":"#f0f0f0"},{"offset":0.279,"color":"#ffff00"},{"offset":0.2835,"color":"#f0f0f0"},
          {"offset":0.2968,"color":"#f0f0f0"},{"offset":0.3013,"color":"#ffff00"},{"offset":0.3058,"color":"#f0f0f0"},
          {"offset":0.3191,"color":"#f0f0f0"},{"offset":0.3236,"color":"#ffff00"},{"offset":0.3281,"color":"#f0f0f0"},
          {"offset":0.3415,"color":"#f0f0f0"},{"offset":0.346,"color":"#ffff00"},{"offset":0.3505,"color":"#f0f0f0"},
          {"offset":0.3638,"color":"#f0f0f0"},{"offset":0.3683,"color":"#ffff00"},{"offset":0.3728,"color":"#f0f0f0"},
          {"offset":0.3861,"color":"#f0f0f0"},{"offset":0.3906,"color":"#ffff00"},{"offset":0.3951,"color":"#f0f0f0"},
          {"offset":0.4084,"color":"#f0f0f0"},{"offset":0.4129,"color":"#ffff00"},{"offset":0.4174,"color":"#f0f0f0"},
          {"offset":0.4308,"color":"#f0f0f0"},{"offset":0.4353,"color":"#ffff00"},{"offset":0.4398,"color":"#f0f0f0"},
          {"offset":0.4531,"color":"#f0f0f0"},{"offset":0.4576,"color":"#ffff00"},{"offset":0.4621,"color":"#f0f0f0"},
          {"offset":0.4754,"color":"#f0f0f0"},{"offset":0.4799,"color":"#ffff00"},{"offset":0.4844,"color":"#f0f0f0"},
          {"offset":0.4978,"color":"#f0f0f0"},{"offset":0.5023,"color":"#ffff00"},{"offset":0.5068,"color":"#f0f0f0"},
          {"offset":0.5201,"color":"#f0f0f0"},{"offset":0.5246,"color":"#ffff00"},{"offset":0.5291,"color":"#f0f0f0"},
          {"offset":0.5424,"color":"#f0f0f0"},{"offset":0.5469,"color":"#ffff00"},{"offset":0.5514,"color":"#f0f0f0"},
          {"offset":0.5648,"color":"#f0f0f0"},{"offset":0.5693,"color":"#ffff00"},{"offset":0.5738,"color":"#f0f0f0"},
          {"offset":0.5871,"color":"#f0f0f0"},{"offset":0.5916,"color":"#ffff00"},{"offset":0.5961,"color":"#f0f0f0"},
          {"offset":0.6094,"color":"#f0f0f0"},{"offset":0.6139,"color":"#ffff00"},{"offset":0.6184,"color":"#f0f0f0"},
          {"offset":0.6317,"color":"#f0f0f0"},{"offset":0.6362,"color":"#ffff00"},{"offset":0.6407,"color":"#f0f0f0"},
          {"offset":0.6541,"color":"#f0f0f0"},{"offset":0.6586,"color":"#ffff00"},{"offset":0.6631,"color":"#f0f0f0"},
          {"offset":0.6764,"color":"#f0f0f0"},{"offset":0.6809,"color":"#ffff00"},{"offset":0.6854,"color":"#f0f0f0"},
          {"offset":0.6987,"color":"#f0f0f0"},{"offset":0.7032,"color":"#ffff00"},{"offset":0.7077,"color":"#f0f0f0"},
          {"offset":0.7211,"color":"#f0f0f0"},{"offset":0.7256,"color":"#ffff00"},{"offset":0.7301,"color":"#f0f0f0"},
          {"offset":0.7434,"color":"#f0f0f0"},{"offset":0.7479,"color":"#ffff00"},{"offset":0.7524,"color":"#f0f0f0"},
          {"offset":0.7657,"color":"#f0f0f0"},{"offset":0.7702,"color":"#ffff00"},{"offset":0.7747,"color":"#f0f0f0"},
          {"offset":0.7881,"color":"#f0f0f0"},{"offset":0.7926,"color":"#ffff00"},{"offset":0.7971,"color":"#f0f0f0"},
          {"offset":0.8104,"color":"#f0f0f0"},{"offset":0.8149,"color":"#ffff00"},{"offset":0.8194,"color":"#f0f0f0"},
          {"offset":0.8327,"color":"#f0f0f0"},{"offset":0.8372,"color":"#ffff00"},{"offset":0.8417,"color":"#f0f0f0"},
          {"offset":0.855,"color":"#f0f0f0"},{"offset":0.8595,"color":"#ffff00"},{"offset":0.864,"color":"#f0f0f0"},
          {"offset":0.8774,"color":"#f0f0f0"},{"offset":0.8819,"color":"#ffff00"},{"offset":0.8864,"color":"#f0f0f0"},
          {"offset":0.8997,"color":"#f0f0f0"},{"offset":0.9042,"color":"#ffff00"},{"offset":0.9087,"color":"#f0f0f0"},
          {"offset":0.922,"color":"#f0f0f0"},{"offset":0.9265,"color":"#ffff00"},{"offset":0.931,"color":"#f0f0f0"},
          {"offset":0.9444,"color":"#f0f0f0"},{"offset":0.9489,"color":"#ffff00"},{"offset":0.9534,"color":"#f0f0f0"},
          {"offset":0.9667,"color":"#f0f0f0"},{"offset":0.9712,"color":"#ffff00"},{"offset":0.9757,"color":"#f0f0f0"},
          {"offset":0.989,"color":"#f0f0f0"},{"offset":0.9935,"color":"#ffff00"},{"offset":0.998,"color":"#f0f0f0"}]}},
         "encoding": {"x": {"datum": 70.5}, "x2": {"datum": 90.0}, "y": {"datum": -34.94}, "y2": {"datum": 30.14}}},
        {"data": {"values": [{"a": 70.5, "b": 90.0, "y": 0, "y2": 24.66}, {"a": 70.5, "b": 83.5, "y": -31.6, "y2": -26.6}]}, "mark": {"type": "rect", "fill": "#f0f0f0"},
         "encoding": {"x": {"field": "a", "type": "quantitative"}, "x2": {"field": "b"}, "y": {"field": "y", "type": "quantitative"}, "y2": {"field": "y2"}}},
        {"data": {"name": "a1"}, "mark": {"type": "area", "color": "#000080"},
         "encoding": {
           "x": {"field": "d", "type": "quantitative", "scale": {"domain": [-22.32, 199.33], "nice": false, "zero": false},
                 "axis": {"orient": "top", "values": [10,20,30,40,50,60,70,80,90,100,110,120,130,140,150,160,170,180,190], "tickCount": 40, "format": "d", "labelExpr": "datum.value % 20 === 0 ? datum.label : ''", "tickSize": -10, "tickWidth": 1.5, "tickColor": "#000000", "labelPadding": 14, "labelBaseline": "alphabetic", "labelAngle": 0, "labelFlush": false, "labelOverlap": false, "labelFont": "Liberation Sans", "labelFontSize": 12, "labelColor": "#20205a", "domain": true, "domainColor": "#24246e", "domainWidth": 1.5, "grid": false, "title": "time (day)", "titleX": 2, "titleY": -4, "titleAlign": "left", "titleAnchor": "start", "titleBaseline": "alphabetic", "titleFont": "Liberation Sans", "titleFontSize": 12, "titleFontWeight": "normal", "titleColor": "#20205a", "zindex": 1}},
           "y": {"field": "v", "type": "quantitative", "scale": {"domain": [-38.36, 30.14], "nice": false, "zero": false, "reverse": true},
                 "axis": {"orient": "left", "offset": -87, "values": [-30,-20,-10,0,10,20], "tickCount": 20, "labelExpr": "datum.value === -30 ? 'Dr' : datum.value === 0 ? '0 mm' : (datum.value === 10 || datum.value === 20) ? datum.label : ''", "tickSize": 18, "tickWidth": 1.5, "tickColor": "#2a2a7c", "domain": false, "grid": false, "labelAlign": "center", "labelBaseline": "middle", "labelPadding": 27, "labelOffset": 2, "labelFlush": false, "labelOverlap": false, "labelFont": "Liberation Sans", "labelFontSize": {"condition": {"test": "datum.value === -30", "value": 21}, "value": 12}, "labelFontWeight": {"condition": {"test": "datum.value === -30", "value": "bold"}, "value": "normal"}, "labelColor": {"condition": {"test": "datum.value === -30", "value": "#1414e0"}, "value": "#20205a"}, "title": null, "zindex": 1}},
           "y2": {"datum": 24.66}}},
        {"data": {"name": "t1"}, "mark": {"type": "line", "interpolate": "step-after", "strokeWidth": 1.5, "opacity": 0.75},
         "encoding": {"x": {"field": "d", "type": "quantitative"}, "y": {"field": "v", "type": "quantitative"}, "detail": {"field": "g"},
           "color": {"field": "s", "type": "nominal", "scale": {"domain": ["SAT","FC","Th1","Th2","Th3","PWP"], "range": ["#1c1c80","#1c1c80","#00e600","#ff0000","#f2f200","#1c1c80"]}, "legend": null}}},
        {"data": {"values": [{"a": -22.32, "b": -16.2}, {"a": -6.23, "b": 185.4}, {"a": 191.8, "b": 199.33}]},
         "mark": {"type": "rule", "color": "#1c1c80", "strokeWidth": 1.2},
         "encoding": {"x": {"field": "a", "type": "quantitative"}, "x2": {"field": "b"}, "y": {"datum": 0}}},
        {"data": {"values": [{"a": 0, "b": 186.2}, {"a": 194.7, "b": 199.33}]},
         "mark": {"type": "rule", "color": "#2222d8", "strokeWidth": 1.5},
         "encoding": {"x": {"field": "a", "type": "quantitative"}, "x2": {"field": "b"}, "y": {"datum": 24.66}}},
        {"data": {"name": "one"}, "mark": {"type": "rule", "color": "#1a1a70", "strokeWidth": 1},
         "encoding": {"x": {"datum": 0}, "y": {"datum": -44.5}, "y2": {"datum": 30.14}}},
        {"data": {"name": "l1"}, "mark": {"type": "text", "align": "left", "baseline": "middle", "fontSize": 12, "font": "Liberation Sans"},
         "encoding": {"x": {"datum": 187.6}, "y": {"field": "v", "type": "quantitative"}, "text": {"field": "lab"},
           "color": {"field": "lab", "type": "nominal", "scale": {"domain": ["SAT","FC","Th1","Th2","Th3","PWP"], "range": ["#1c1c80","#1c1c80","#00e600","#ff0000","#f2f200","#1c1c80"]}, "legend": null}}},
        {"data": {"name": "one"}, "mark": {"type": "text", "text": "Flowering", "align": "left", "baseline": "middle", "dx": 1, "fontSize": 12, "font": "Liberation Sans", "color": "#22224a"},
         "encoding": {"x": {"datum": 70.5}, "y": {"datum": -29.1}}},
        {"data": {"name": "one"}, "mark": {"type": "text", "text": "Amarilla Marangani", "align": "center", "baseline": "middle", "fontSize": 16, "font": "Liberation Serif", "fontWeight": "bold", "color": "#111111"},
         "encoding": {"x": {"datum": 134.7}, "y": {"datum": -22.3}}}
      ]
    },
    {
      "width": 868, "height": 200,
      "layer": [
        {"data": {"name": "one"}, "mark": {"type": "rect", "fill": "#c0c0c0"},
         "encoding": {"x": {"datum": -21.66}, "x2": {"datum": 194.42}, "y": {"datum": -38.36}, "y2": {"datum": -34.94}}},
        {"data": {"name": "one"}, "mark": {"type": "rule", "color": "#202020", "strokeWidth": 1.5},
         "encoding": {"x": {"datum": -21.66}, "x2": {"datum": 194.42}, "y": {"datum": -34.94}}},
        {"data": {"name": "one"}, "mark": {"type": "rect", "fill": {"gradient": "linear", "x1": 0, "y1": 1, "x2": 0.6448, "y2": -0.245, "stops": [
          {"offset":0.0065,"color":"#f0f0f0"},{"offset":0.011,"color":"#ffff00"},{"offset":0.0155,"color":"#f0f0f0"},
          {"offset":0.0288,"color":"#f0f0f0"},{"offset":0.0333,"color":"#ffff00"},{"offset":0.0378,"color":"#f0f0f0"},
          {"offset":0.0512,"color":"#f0f0f0"},{"offset":0.0557,"color":"#ffff00"},{"offset":0.0602,"color":"#f0f0f0"},
          {"offset":0.0735,"color":"#f0f0f0"},{"offset":0.078,"color":"#ffff00"},{"offset":0.0825,"color":"#f0f0f0"},
          {"offset":0.0958,"color":"#f0f0f0"},{"offset":0.1003,"color":"#ffff00"},{"offset":0.1048,"color":"#f0f0f0"},
          {"offset":0.1182,"color":"#f0f0f0"},{"offset":0.1227,"color":"#ffff00"},{"offset":0.1272,"color":"#f0f0f0"},
          {"offset":0.1405,"color":"#f0f0f0"},{"offset":0.145,"color":"#ffff00"},{"offset":0.1495,"color":"#f0f0f0"},
          {"offset":0.1628,"color":"#f0f0f0"},{"offset":0.1673,"color":"#ffff00"},{"offset":0.1718,"color":"#f0f0f0"},
          {"offset":0.1851,"color":"#f0f0f0"},{"offset":0.1896,"color":"#ffff00"},{"offset":0.1941,"color":"#f0f0f0"},
          {"offset":0.2075,"color":"#f0f0f0"},{"offset":0.212,"color":"#ffff00"},{"offset":0.2165,"color":"#f0f0f0"},
          {"offset":0.2298,"color":"#f0f0f0"},{"offset":0.2343,"color":"#ffff00"},{"offset":0.2388,"color":"#f0f0f0"},
          {"offset":0.2521,"color":"#f0f0f0"},{"offset":0.2566,"color":"#ffff00"},{"offset":0.2611,"color":"#f0f0f0"},
          {"offset":0.2745,"color":"#f0f0f0"},{"offset":0.279,"color":"#ffff00"},{"offset":0.2835,"color":"#f0f0f0"},
          {"offset":0.2968,"color":"#f0f0f0"},{"offset":0.3013,"color":"#ffff00"},{"offset":0.3058,"color":"#f0f0f0"},
          {"offset":0.3191,"color":"#f0f0f0"},{"offset":0.3236,"color":"#ffff00"},{"offset":0.3281,"color":"#f0f0f0"},
          {"offset":0.3415,"color":"#f0f0f0"},{"offset":0.346,"color":"#ffff00"},{"offset":0.3505,"color":"#f0f0f0"},
          {"offset":0.3638,"color":"#f0f0f0"},{"offset":0.3683,"color":"#ffff00"},{"offset":0.3728,"color":"#f0f0f0"},
          {"offset":0.3861,"color":"#f0f0f0"},{"offset":0.3906,"color":"#ffff00"},{"offset":0.3951,"color":"#f0f0f0"},
          {"offset":0.4084,"color":"#f0f0f0"},{"offset":0.4129,"color":"#ffff00"},{"offset":0.4174,"color":"#f0f0f0"},
          {"offset":0.4308,"color":"#f0f0f0"},{"offset":0.4353,"color":"#ffff00"},{"offset":0.4398,"color":"#f0f0f0"},
          {"offset":0.4531,"color":"#f0f0f0"},{"offset":0.4576,"color":"#ffff00"},{"offset":0.4621,"color":"#f0f0f0"},
          {"offset":0.4754,"color":"#f0f0f0"},{"offset":0.4799,"color":"#ffff00"},{"offset":0.4844,"color":"#f0f0f0"},
          {"offset":0.4978,"color":"#f0f0f0"},{"offset":0.5023,"color":"#ffff00"},{"offset":0.5068,"color":"#f0f0f0"},
          {"offset":0.5201,"color":"#f0f0f0"},{"offset":0.5246,"color":"#ffff00"},{"offset":0.5291,"color":"#f0f0f0"},
          {"offset":0.5424,"color":"#f0f0f0"},{"offset":0.5469,"color":"#ffff00"},{"offset":0.5514,"color":"#f0f0f0"},
          {"offset":0.5648,"color":"#f0f0f0"},{"offset":0.5693,"color":"#ffff00"},{"offset":0.5738,"color":"#f0f0f0"},
          {"offset":0.5871,"color":"#f0f0f0"},{"offset":0.5916,"color":"#ffff00"},{"offset":0.5961,"color":"#f0f0f0"},
          {"offset":0.6094,"color":"#f0f0f0"},{"offset":0.6139,"color":"#ffff00"},{"offset":0.6184,"color":"#f0f0f0"},
          {"offset":0.6317,"color":"#f0f0f0"},{"offset":0.6362,"color":"#ffff00"},{"offset":0.6407,"color":"#f0f0f0"},
          {"offset":0.6541,"color":"#f0f0f0"},{"offset":0.6586,"color":"#ffff00"},{"offset":0.6631,"color":"#f0f0f0"},
          {"offset":0.6764,"color":"#f0f0f0"},{"offset":0.6809,"color":"#ffff00"},{"offset":0.6854,"color":"#f0f0f0"},
          {"offset":0.6987,"color":"#f0f0f0"},{"offset":0.7032,"color":"#ffff00"},{"offset":0.7077,"color":"#f0f0f0"},
          {"offset":0.7211,"color":"#f0f0f0"},{"offset":0.7256,"color":"#ffff00"},{"offset":0.7301,"color":"#f0f0f0"},
          {"offset":0.7434,"color":"#f0f0f0"},{"offset":0.7479,"color":"#ffff00"},{"offset":0.7524,"color":"#f0f0f0"},
          {"offset":0.7657,"color":"#f0f0f0"},{"offset":0.7702,"color":"#ffff00"},{"offset":0.7747,"color":"#f0f0f0"},
          {"offset":0.7881,"color":"#f0f0f0"},{"offset":0.7926,"color":"#ffff00"},{"offset":0.7971,"color":"#f0f0f0"},
          {"offset":0.8104,"color":"#f0f0f0"},{"offset":0.8149,"color":"#ffff00"},{"offset":0.8194,"color":"#f0f0f0"},
          {"offset":0.8327,"color":"#f0f0f0"},{"offset":0.8372,"color":"#ffff00"},{"offset":0.8417,"color":"#f0f0f0"},
          {"offset":0.855,"color":"#f0f0f0"},{"offset":0.8595,"color":"#ffff00"},{"offset":0.864,"color":"#f0f0f0"},
          {"offset":0.8774,"color":"#f0f0f0"},{"offset":0.8819,"color":"#ffff00"},{"offset":0.8864,"color":"#f0f0f0"},
          {"offset":0.8997,"color":"#f0f0f0"},{"offset":0.9042,"color":"#ffff00"},{"offset":0.9087,"color":"#f0f0f0"},
          {"offset":0.922,"color":"#f0f0f0"},{"offset":0.9265,"color":"#ffff00"},{"offset":0.931,"color":"#f0f0f0"},
          {"offset":0.9444,"color":"#f0f0f0"},{"offset":0.9489,"color":"#ffff00"},{"offset":0.9534,"color":"#f0f0f0"},
          {"offset":0.9667,"color":"#f0f0f0"},{"offset":0.9712,"color":"#ffff00"},{"offset":0.9757,"color":"#f0f0f0"},
          {"offset":0.989,"color":"#f0f0f0"},{"offset":0.9935,"color":"#ffff00"},{"offset":0.998,"color":"#f0f0f0"}]}},
         "encoding": {"x": {"datum": 69.6}, "x2": {"datum": 94.1}, "y": {"datum": -34.94}, "y2": {"datum": 30.14}}},
        {"data": {"values": [{"a": 69.6, "b": 94.1, "y": 0, "y2": 24.5}, {"a": 69.6, "b": 82.3, "y": -31.4, "y2": -26.4}]}, "mark": {"type": "rect", "fill": "#f0f0f0"},
         "encoding": {"x": {"field": "a", "type": "quantitative"}, "x2": {"field": "b"}, "y": {"field": "y", "type": "quantitative"}, "y2": {"field": "y2"}}},
        {"data": {"name": "a2"}, "mark": {"type": "area", "color": "#000080"},
         "encoding": {
           "x": {"field": "d", "type": "quantitative", "scale": {"domain": [-21.66, 194.42], "nice": false, "zero": false},
                 "axis": {"orient": "top", "values": [10,20,30,40,50,60,70,80,90,100,110,120,130,140,150,160,170,180,190], "tickCount": 40, "format": "d", "labelExpr": "datum.value % 20 === 0 ? datum.label : ''", "tickSize": -10, "tickWidth": 1.5, "tickColor": "#000000", "labelPadding": 14, "labelBaseline": "alphabetic", "labelAngle": 0, "labelFlush": false, "labelOverlap": false, "labelFont": "Liberation Sans", "labelFontSize": 12, "labelColor": "#20205a", "domain": true, "domainColor": "#24246e", "domainWidth": 1.5, "grid": false, "title": "time (day)", "titleX": 2, "titleY": -4, "titleAlign": "left", "titleAnchor": "start", "titleBaseline": "alphabetic", "titleFont": "Liberation Sans", "titleFontSize": 12, "titleFontWeight": "normal", "titleColor": "#20205a", "zindex": 1}},
           "y": {"field": "v", "type": "quantitative", "scale": {"domain": [-38.36, 30.14], "nice": false, "zero": false, "reverse": true},
                 "axis": {"orient": "left", "offset": -87, "values": [-30,-20,-10,0,10,20], "tickCount": 20, "labelExpr": "datum.value === -30 ? 'Dr' : datum.value === 0 ? '0 mm' : (datum.value === 10 || datum.value === 20) ? datum.label : ''", "tickSize": 18, "tickWidth": 1.5, "tickColor": "#2a2a7c", "domain": false, "grid": false, "labelAlign": "center", "labelBaseline": "middle", "labelPadding": 27, "labelOffset": 2, "labelFlush": false, "labelOverlap": false, "labelFont": "Liberation Sans", "labelFontSize": {"condition": {"test": "datum.value === -30", "value": 21}, "value": 12}, "labelFontWeight": {"condition": {"test": "datum.value === -30", "value": "bold"}, "value": "normal"}, "labelColor": {"condition": {"test": "datum.value === -30", "value": "#1414e0"}, "value": "#20205a"}, "title": null, "zindex": 1}},
           "y2": {"datum": 24.0}}},
        {"data": {"values": [{"a": -21.66, "b": -15.68}, {"a": -5.97, "b": 181.6}, {"a": 187.0, "b": 194.42}]},
         "mark": {"type": "rule", "color": "#1c1c80", "strokeWidth": 1.2},
         "encoding": {"x": {"field": "a", "type": "quantitative"}, "x2": {"field": "b"}, "y": {"datum": 0}}},
        {"data": {"values": [{"a": 0, "b": 181.6}, {"a": 189.9, "b": 194.42}]},
         "mark": {"type": "rule", "color": "#2222d8", "strokeWidth": 1.5},
         "encoding": {"x": {"field": "a", "type": "quantitative"}, "x2": {"field": "b"}, "y": {"datum": 24.5}}},
        {"data": {"name": "t2"}, "mark": {"type": "line", "interpolate": "step-after", "strokeWidth": 1.5, "opacity": 0.75},
         "encoding": {"x": {"field": "d", "type": "quantitative"}, "y": {"field": "v", "type": "quantitative"}, "detail": {"field": "g"},
           "color": {"field": "s", "type": "nominal", "scale": {"domain": ["SAT","FC","Th1","Th2","Th3","PWP"], "range": ["#1c1c80","#1c1c80","#00e600","#ff0000","#f2f200","#1c1c80"]}, "legend": null}}},
        {"data": {"name": "one"}, "mark": {"type": "rule", "color": "#1a1a70", "strokeWidth": 1},
         "encoding": {"x": {"datum": 0}, "y": {"datum": -44.5}, "y2": {"datum": 30.14}}},
        {"data": {"name": "l2"}, "mark": {"type": "text", "align": "left", "baseline": "middle", "fontSize": 12, "font": "Liberation Sans"},
         "encoding": {"x": {"datum": 183.0}, "y": {"field": "v", "type": "quantitative"}, "text": {"field": "lab"},
           "color": {"field": "lab", "type": "nominal", "scale": {"domain": ["SAT","FC","Th1","Th2","Th3","PWP"], "range": ["#1c1c80","#1c1c80","#00e600","#ff0000","#f2f200","#1c1c80"]}, "legend": null}}},
        {"data": {"name": "one"}, "mark": {"type": "text", "text": "Flowering", "align": "left", "baseline": "middle", "dx": 1, "fontSize": 12, "font": "Liberation Sans", "color": "#22224a"},
         "encoding": {"x": {"datum": 69.6}, "y": {"datum": -28.9}}},
        {"data": {"name": "one"}, "mark": {"type": "text", "text": "Blanca de Junín", "align": "center", "baseline": "middle", "fontSize": 16, "font": "Liberation Serif", "fontWeight": "bold", "color": "#111111"},
         "encoding": {"x": {"datum": 127.7}, "y": {"datum": -19.5}}}
      ]
    },
    {
      "width": 868, "height": 200,
      "layer": [
        {"data": {"name": "one"}, "mark": {"type": "rect", "fill": "#c0c0c0"},
         "encoding": {"x": {"datum": -21.26}, "x2": {"datum": 189.37}, "y": {"datum": -38.36}, "y2": {"datum": -34.94}}},
        {"data": {"name": "one"}, "mark": {"type": "rule", "color": "#202020", "strokeWidth": 1.5},
         "encoding": {"x": {"datum": -21.26}, "x2": {"datum": 189.37}, "y": {"datum": -34.94}}},
        {"data": {"name": "one"}, "mark": {"type": "rect", "fill": {"gradient": "linear", "x1": 0, "y1": 1, "x2": 0.5686, "y2": -0.3371, "stops": [
          {"offset":0.0065,"color":"#f0f0f0"},{"offset":0.011,"color":"#ffff00"},{"offset":0.0155,"color":"#f0f0f0"},
          {"offset":0.0288,"color":"#f0f0f0"},{"offset":0.0333,"color":"#ffff00"},{"offset":0.0378,"color":"#f0f0f0"},
          {"offset":0.0512,"color":"#f0f0f0"},{"offset":0.0557,"color":"#ffff00"},{"offset":0.0602,"color":"#f0f0f0"},
          {"offset":0.0735,"color":"#f0f0f0"},{"offset":0.078,"color":"#ffff00"},{"offset":0.0825,"color":"#f0f0f0"},
          {"offset":0.0958,"color":"#f0f0f0"},{"offset":0.1003,"color":"#ffff00"},{"offset":0.1048,"color":"#f0f0f0"},
          {"offset":0.1182,"color":"#f0f0f0"},{"offset":0.1227,"color":"#ffff00"},{"offset":0.1272,"color":"#f0f0f0"},
          {"offset":0.1405,"color":"#f0f0f0"},{"offset":0.145,"color":"#ffff00"},{"offset":0.1495,"color":"#f0f0f0"},
          {"offset":0.1628,"color":"#f0f0f0"},{"offset":0.1673,"color":"#ffff00"},{"offset":0.1718,"color":"#f0f0f0"},
          {"offset":0.1851,"color":"#f0f0f0"},{"offset":0.1896,"color":"#ffff00"},{"offset":0.1941,"color":"#f0f0f0"},
          {"offset":0.2075,"color":"#f0f0f0"},{"offset":0.212,"color":"#ffff00"},{"offset":0.2165,"color":"#f0f0f0"},
          {"offset":0.2298,"color":"#f0f0f0"},{"offset":0.2343,"color":"#ffff00"},{"offset":0.2388,"color":"#f0f0f0"},
          {"offset":0.2521,"color":"#f0f0f0"},{"offset":0.2566,"color":"#ffff00"},{"offset":0.2611,"color":"#f0f0f0"},
          {"offset":0.2745,"color":"#f0f0f0"},{"offset":0.279,"color":"#ffff00"},{"offset":0.2835,"color":"#f0f0f0"},
          {"offset":0.2968,"color":"#f0f0f0"},{"offset":0.3013,"color":"#ffff00"},{"offset":0.3058,"color":"#f0f0f0"},
          {"offset":0.3191,"color":"#f0f0f0"},{"offset":0.3236,"color":"#ffff00"},{"offset":0.3281,"color":"#f0f0f0"},
          {"offset":0.3415,"color":"#f0f0f0"},{"offset":0.346,"color":"#ffff00"},{"offset":0.3505,"color":"#f0f0f0"},
          {"offset":0.3638,"color":"#f0f0f0"},{"offset":0.3683,"color":"#ffff00"},{"offset":0.3728,"color":"#f0f0f0"},
          {"offset":0.3861,"color":"#f0f0f0"},{"offset":0.3906,"color":"#ffff00"},{"offset":0.3951,"color":"#f0f0f0"},
          {"offset":0.4084,"color":"#f0f0f0"},{"offset":0.4129,"color":"#ffff00"},{"offset":0.4174,"color":"#f0f0f0"},
          {"offset":0.4308,"color":"#f0f0f0"},{"offset":0.4353,"color":"#ffff00"},{"offset":0.4398,"color":"#f0f0f0"},
          {"offset":0.4531,"color":"#f0f0f0"},{"offset":0.4576,"color":"#ffff00"},{"offset":0.4621,"color":"#f0f0f0"},
          {"offset":0.4754,"color":"#f0f0f0"},{"offset":0.4799,"color":"#ffff00"},{"offset":0.4844,"color":"#f0f0f0"},
          {"offset":0.4978,"color":"#f0f0f0"},{"offset":0.5023,"color":"#ffff00"},{"offset":0.5068,"color":"#f0f0f0"},
          {"offset":0.5201,"color":"#f0f0f0"},{"offset":0.5246,"color":"#ffff00"},{"offset":0.5291,"color":"#f0f0f0"},
          {"offset":0.5424,"color":"#f0f0f0"},{"offset":0.5469,"color":"#ffff00"},{"offset":0.5514,"color":"#f0f0f0"},
          {"offset":0.5648,"color":"#f0f0f0"},{"offset":0.5693,"color":"#ffff00"},{"offset":0.5738,"color":"#f0f0f0"},
          {"offset":0.5871,"color":"#f0f0f0"},{"offset":0.5916,"color":"#ffff00"},{"offset":0.5961,"color":"#f0f0f0"},
          {"offset":0.6094,"color":"#f0f0f0"},{"offset":0.6139,"color":"#ffff00"},{"offset":0.6184,"color":"#f0f0f0"},
          {"offset":0.6317,"color":"#f0f0f0"},{"offset":0.6362,"color":"#ffff00"},{"offset":0.6407,"color":"#f0f0f0"},
          {"offset":0.6541,"color":"#f0f0f0"},{"offset":0.6586,"color":"#ffff00"},{"offset":0.6631,"color":"#f0f0f0"},
          {"offset":0.6764,"color":"#f0f0f0"},{"offset":0.6809,"color":"#ffff00"},{"offset":0.6854,"color":"#f0f0f0"},
          {"offset":0.6987,"color":"#f0f0f0"},{"offset":0.7032,"color":"#ffff00"},{"offset":0.7077,"color":"#f0f0f0"},
          {"offset":0.7211,"color":"#f0f0f0"},{"offset":0.7256,"color":"#ffff00"},{"offset":0.7301,"color":"#f0f0f0"},
          {"offset":0.7434,"color":"#f0f0f0"},{"offset":0.7479,"color":"#ffff00"},{"offset":0.7524,"color":"#f0f0f0"},
          {"offset":0.7657,"color":"#f0f0f0"},{"offset":0.7702,"color":"#ffff00"},{"offset":0.7747,"color":"#f0f0f0"},
          {"offset":0.7881,"color":"#f0f0f0"},{"offset":0.7926,"color":"#ffff00"},{"offset":0.7971,"color":"#f0f0f0"},
          {"offset":0.8104,"color":"#f0f0f0"},{"offset":0.8149,"color":"#ffff00"},{"offset":0.8194,"color":"#f0f0f0"},
          {"offset":0.8327,"color":"#f0f0f0"},{"offset":0.8372,"color":"#ffff00"},{"offset":0.8417,"color":"#f0f0f0"},
          {"offset":0.855,"color":"#f0f0f0"},{"offset":0.8595,"color":"#ffff00"},{"offset":0.864,"color":"#f0f0f0"},
          {"offset":0.8774,"color":"#f0f0f0"},{"offset":0.8819,"color":"#ffff00"},{"offset":0.8864,"color":"#f0f0f0"},
          {"offset":0.8997,"color":"#f0f0f0"},{"offset":0.9042,"color":"#ffff00"},{"offset":0.9087,"color":"#f0f0f0"},
          {"offset":0.922,"color":"#f0f0f0"},{"offset":0.9265,"color":"#ffff00"},{"offset":0.931,"color":"#f0f0f0"},
          {"offset":0.9444,"color":"#f0f0f0"},{"offset":0.9489,"color":"#ffff00"},{"offset":0.9534,"color":"#f0f0f0"},
          {"offset":0.9667,"color":"#f0f0f0"},{"offset":0.9712,"color":"#ffff00"},{"offset":0.9757,"color":"#f0f0f0"},
          {"offset":0.989,"color":"#f0f0f0"},{"offset":0.9935,"color":"#ffff00"},{"offset":0.998,"color":"#f0f0f0"}]}},
         "encoding": {"x": {"datum": 80.5}, "x2": {"datum": 100.1}, "y": {"datum": -34.94}, "y2": {"datum": 30.14}}},
        {"data": {"values": [{"a": 80.5, "b": 100.1, "y": 0, "y2": 24.3}, {"a": 80.5, "b": 92.8, "y": -31.6, "y2": -26.6}]}, "mark": {"type": "rect", "fill": "#f0f0f0"},
         "encoding": {"x": {"field": "a", "type": "quantitative"}, "x2": {"field": "b"}, "y": {"field": "y", "type": "quantitative"}, "y2": {"field": "y2"}}},
        {"data": {"name": "a3"}, "mark": {"type": "area", "color": "#000080"},
         "encoding": {
           "x": {"field": "d", "type": "quantitative", "scale": {"domain": [-21.26, 189.37], "nice": false, "zero": false},
                 "axis": {"orient": "top", "values": [10,20,30,40,50,60,70,80,90,100,110,120,130,140,150,160,170,180], "tickCount": 40, "format": "d", "labelExpr": "datum.value % 20 === 0 ? datum.label : ''", "tickSize": -10, "tickWidth": 1.5, "tickColor": "#000000", "labelPadding": 14, "labelBaseline": "alphabetic", "labelAngle": 0, "labelFlush": false, "labelOverlap": false, "labelFont": "Liberation Sans", "labelFontSize": 12, "labelColor": "#20205a", "domain": true, "domainColor": "#24246e", "domainWidth": 1.5, "grid": false, "title": "time (day)", "titleX": 2, "titleY": -4, "titleAlign": "left", "titleAnchor": "start", "titleBaseline": "alphabetic", "titleFont": "Liberation Sans", "titleFontSize": 12, "titleFontWeight": "normal", "titleColor": "#20205a", "zindex": 1}},
           "y": {"field": "v", "type": "quantitative", "scale": {"domain": [-38.36, 30.14], "nice": false, "zero": false, "reverse": true},
                 "axis": {"orient": "left", "offset": -87, "values": [-30,-20,-10,0,10,20], "tickCount": 20, "labelExpr": "datum.value === -30 ? 'Dr' : datum.value === 0 ? '0 mm' : (datum.value === 10 || datum.value === 20) ? datum.label : ''", "tickSize": 18, "tickWidth": 1.5, "tickColor": "#2a2a7c", "domain": false, "grid": false, "labelAlign": "center", "labelBaseline": "middle", "labelPadding": 27, "labelOffset": 2, "labelFlush": false, "labelOverlap": false, "labelFont": "Liberation Sans", "labelFontSize": {"condition": {"test": "datum.value === -30", "value": 21}, "value": 12}, "labelFontWeight": {"condition": {"test": "datum.value === -30", "value": "bold"}, "value": "normal"}, "labelColor": {"condition": {"test": "datum.value === -30", "value": "#1414e0"}, "value": "#20205a"}, "title": null, "zindex": 1}},
           "y2": {"datum": 24.2}}},
        {"data": {"values": [{"a": -21.26, "b": -15.43}, {"a": -5.97, "b": 176.5}, {"a": 182.2, "b": 189.37}]},
         "mark": {"type": "rule", "color": "#1c1c80", "strokeWidth": 1.2},
         "encoding": {"x": {"field": "a", "type": "quantitative"}, "x2": {"field": "b"}, "y": {"datum": 0}}},
        {"data": {"values": [{"a": 0, "b": 176.9}, {"a": 185.0, "b": 189.37}]},
         "mark": {"type": "rule", "color": "#2222d8", "strokeWidth": 1.5},
         "encoding": {"x": {"field": "a", "type": "quantitative"}, "x2": {"field": "b"}, "y": {"datum": 24.4}}},
        {"data": {"name": "t3"}, "mark": {"type": "line", "interpolate": "step-after", "strokeWidth": 1.5, "opacity": 0.75},
         "encoding": {"x": {"field": "d", "type": "quantitative"}, "y": {"field": "v", "type": "quantitative"}, "detail": {"field": "g"},
           "color": {"field": "s", "type": "nominal", "scale": {"domain": ["SAT","FC","Th1","Th2","Th3","PWP"], "range": ["#1c1c80","#1c1c80","#00e600","#ff0000","#f2f200","#1c1c80"]}, "legend": null}}},
        {"data": {"name": "one"}, "mark": {"type": "rule", "color": "#1a1a70", "strokeWidth": 1},
         "encoding": {"x": {"datum": 0}, "y": {"datum": -44.5}, "y2": {"datum": 30.14}}},
        {"data": {"name": "l3"}, "mark": {"type": "text", "align": "left", "baseline": "middle", "fontSize": 12, "font": "Liberation Sans"},
         "encoding": {"x": {"datum": 178.2}, "y": {"field": "v", "type": "quantitative"}, "text": {"field": "lab"},
           "color": {"field": "lab", "type": "nominal", "scale": {"domain": ["SAT","FC","Th1","Th2","Th3","PWP"], "range": ["#1c1c80","#1c1c80","#00e600","#ff0000","#f2f200","#1c1c80"]}, "legend": null}}},
        {"data": {"name": "one"}, "mark": {"type": "text", "text": "Flowering", "align": "left", "baseline": "middle", "dx": 1, "fontSize": 12, "font": "Liberation Sans", "color": "#22224a"},
         "encoding": {"x": {"datum": 80.5}, "y": {"datum": -29.1}}},
        {"data": {"name": "one"}, "mark": {"type": "text", "text": "Rosada de Huancayo", "align": "center", "baseline": "middle", "fontSize": 16, "font": "Liberation Serif", "fontWeight": "bold", "color": "#111111"},
         "encoding": {"x": {"datum": 136.0}, "y": {"datum": -19.4}}}
      ]
    }
  ]
}
